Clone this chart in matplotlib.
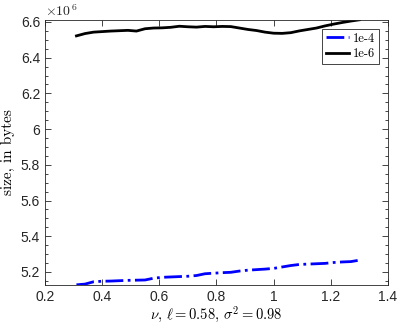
import numpy as np
import matplotlib
matplotlib.use("Agg")
import matplotlib.pyplot as plt
from matplotlib.ticker import FuncFormatter, MultipleLocator

nu = [0.31, 0.34, 0.37, 0.40, 0.43, 0.46, 0.49, 0.52, 0.55, 0.58, 0.61, 0.64,
      0.67, 0.70, 0.73, 0.76, 0.79, 0.82, 0.85, 0.88, 0.91, 0.94, 0.97, 1.00,
      1.03, 1.06, 1.09, 1.12, 1.15, 1.18, 1.21, 1.24, 1.27, 1.30]

size_1e4 = [5.128, 5.132, 5.145, 5.148, 5.149, 5.151, 5.153, 5.154, 5.155, 5.165,
            5.170, 5.172, 5.174, 5.176, 5.180, 5.190, 5.193, 5.196, 5.198, 5.205,
            5.210, 5.213, 5.216, 5.220, 5.228, 5.236, 5.242, 5.244, 5.246, 5.248,
            5.253, 5.256, 5.258, 5.266]
size_1e6 = [6.522, 6.535, 6.543, 6.546, 6.549, 6.551, 6.553, 6.549, 6.562, 6.566,
            6.567, 6.570, 6.576, 6.573, 6.571, 6.575, 6.573, 6.575, 6.574, 6.566,
            6.558, 6.552, 6.543, 6.537, 6.536, 6.540, 6.550, 6.558, 6.566, 6.578,
            6.588, 6.597, 6.605, 6.612]
size_1e4 = [v * 1e6 for v in size_1e4]
size_1e6 = [v * 1e6 for v in size_1e6]

series_labels = ["1e-4", "1e-6"]

plt.rcParams["mathtext.fontset"] = "cm"
plt.rcParams["font.family"] = ["Liberation Sans", "DejaVu Sans"]

fig = plt.figure(figsize=(3.99, 3.24), dpi=100)
ax = fig.add_axes([0.1128, 0.1204, 0.8596, 0.8179])

ax.plot(nu, size_1e4, color="#0000ff", linestyle="-.", linewidth=2.0, label=series_labels[0])
ax.plot(nu, size_1e6, color="black", linestyle="-", linewidth=2.0, label=series_labels[1])

ax.set_xlim(0.2, 1.4)
ax.set_ylim(5.127e6, 6.611e6)
ax.set_xticks([0.2, 0.4, 0.6, 0.8, 1.0, 1.2, 1.4])
ax.xaxis.set_major_formatter(FuncFormatter(lambda v, p: "%g" % round(v, 2)))
ax.set_yticks([5.2e6, 5.4e6, 5.6e6, 5.8e6, 6.0e6, 6.2e6, 6.4e6, 6.6e6])
ax.yaxis.set_minor_locator(MultipleLocator(0.05e6))
ax.yaxis.set_major_formatter(FuncFormatter(lambda v, p: "%g" % round(v / 1e6, 2)))

ax.tick_params(which="both", direction="in", top=True, right=True,
               colors="#262626", labelsize=10, width=0.6)
ax.tick_params(which="major", length=4)
ax.tick_params(which="minor", length=2)
for s in ax.spines.values():
    s.set_color("#262626")
    s.set_linewidth(0.6)

ax.text(0.0, 1.005, r"$\times10^{\,6}$", transform=ax.transAxes, ha="left", va="bottom",
        fontsize=10, color="#262626", family=["Liberation Sans"])

ax.set_xlabel(r"$\nu$, $\ell = 0.58$, $\sigma^2 = 0.98$", fontsize=10.5,
              family=["cmr10"], labelpad=0)
ax.set_ylabel("size, in bytes", fontsize=11, family=["cmr10"], labelpad=4)

leg = ax.legend(loc="upper right", prop={"family": "cmr10", "size": 9},
                fancybox=False, edgecolor="#262626", framealpha=1,
                handlelength=1.9, handletextpad=0.3, borderpad=0.3,
                labelspacing=0.3, borderaxespad=0.7)
leg.get_frame().set_linewidth(0.6)

fig.savefig("out.png", dpi=100)
